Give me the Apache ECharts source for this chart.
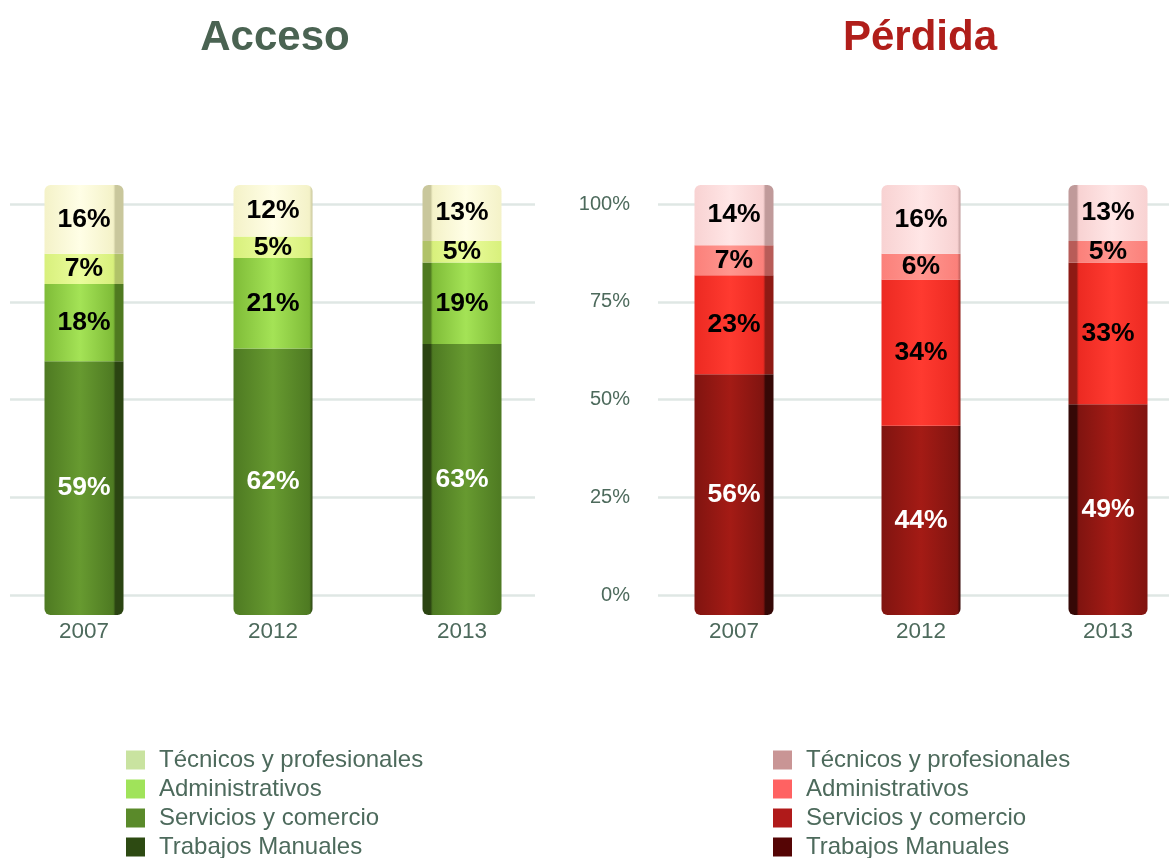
<!DOCTYPE html>
<html>
<head>
<meta charset="utf-8">
<script src="https://cdn.jsdelivr.net/npm/echarts@6/dist/echarts.min.js"></script>
<style>
html,body{margin:0;padding:0;background:#fff;}
#c{width:1169px;height:858px;}
</style>
</head>
<body>
<div id="c"></div>
<script>
// ---- data ----
const years = ['2007', '2012', '2013'];
const categoryNames = ['Técnicos y profesionales', 'Administrativos', 'Servicios y comercio', 'Trabajos Manuales'];
const yTickValues = [0, 25, 50, 75, 100];

const accesoTecnicos = [16, 12, 13];
const accesoAdministrativos = [7, 5, 5];
const accesoServicios = [18, 21, 19];
const accesoTrabajos = [59, 62, 63];

const perdidaTecnicos = [14, 16, 13];
const perdidaAdministrativos = [7, 6, 5];
const perdidaServicios = [23, 34, 33];
const perdidaTrabajos = [56, 44, 49];

// ---- styles ----
const barSides = ['right', 'none', 'left'];
const greenBar = {
  'Técnicos y profesionales': ['#f4f2c8', '#fffee6', '#c9c79c'],
  'Administrativos': ['#d8f07c', '#eafc9c', '#b0c268'],
  'Servicios y comercio': ['#7fbc38', '#a4e356', '#4f7a20'],
  'Trabajos Manuales': ['#4e7a22', '#679a30', '#2b4412']
};
const redBar = {
  'Técnicos y profesionales': ['#f8d2d2', '#ffe6e6', '#c09a9a'],
  'Administrativos': ['#fb807a', '#ff968f', '#b85c58'],
  'Servicios y comercio': ['#ec2a22', '#ff3a30', '#8e1a14'],
  'Trabajos Manuales': ['#801410', '#a41b15', '#350806']
};
const greenLegend = ['#c9e3a0', '#a0e35a', '#5a8a2a', '#2d4a12'];
const redLegend = ['#c99595', '#ff6262', '#b01a1a', '#550505'];

function grad(c, side) {
  const [base, light, dark] = c;
  let stops;
  if (side === 'right') {
    stops = [[0, base], [0.45, light], [0.87, base], [0.9, dark], [1, dark]];
  } else if (side === 'left') {
    stops = [[0, dark], [0.1, dark], [0.13, base], [0.55, light], [1, base]];
  } else {
    stops = [[0, base], [0.5, light], [0.96, base], [1, dark]];
  }
  return new echarts.graphic.LinearGradient(0, 0, 1, 0, stops.map(s => ({offset: s[0], color: s[1]})));
}

const FONT = '"Liberation Sans", Arial, Helvetica, sans-serif';
const textCol = '#4d6a5c';

function makeSeries(name, values, palette, xIdx, pos) {
  const radius = pos === 'top' ? [6, 6, 0, 0] : (pos === 'bottom' ? [0, 0, 6, 6] : 0);
  return {
    name: name,
    type: 'bar',
    stack: 's' + xIdx,
    xAxisIndex: xIdx,
    yAxisIndex: xIdx,
    barWidth: 79,
    data: values.map((v, i) => ({
      value: v,
      itemStyle: {color: grad(palette[name], barSides[i]), borderRadius: radius}
    })),
    label: {
      show: true,
      position: 'inside',
      formatter: p => p.value + '%',
      fontFamily: FONT,
      fontWeight: 'bold',
      fontSize: 26.5,
      color: name === 'Trabajos Manuales' ? '#ffffff' : '#000000'
    },
    emphasis: {disabled: true}
  };
}

const series = [
  makeSeries('Trabajos Manuales', accesoTrabajos, greenBar, 0, 'bottom'),
  makeSeries('Servicios y comercio', accesoServicios, greenBar, 0, 'mid'),
  makeSeries('Administrativos', accesoAdministrativos, greenBar, 0, 'mid'),
  makeSeries('Técnicos y profesionales', accesoTecnicos, greenBar, 0, 'top'),
  makeSeries('Trabajos Manuales', perdidaTrabajos, redBar, 1, 'bottom'),
  makeSeries('Servicios y comercio', perdidaServicios, redBar, 1, 'mid'),
  makeSeries('Administrativos', perdidaAdministrativos, redBar, 1, 'mid'),
  makeSeries('Técnicos y profesionales', perdidaTecnicos, redBar, 1, 'top')
];

function legend(left, colors) {
  return {
    left: left,
    top: 748,
    height: 130,
    width: 400,
    padding: 0,
    orient: 'vertical',
    icon: 'rect',
    itemWidth: 19,
    itemHeight: 19,
    itemGap: 5,
    selectedMode: false,
    data: categoryNames.map((n, i) => ({name: n, itemStyle: {color: colors[i]}})),
    textStyle: {fontFamily: FONT, fontSize: 24, color: textCol, padding: [0, 0, 0, 9]}
  };
}

const option = {
  backgroundColor: '#ffffff',
  animation: false,
  title: [
    {text: 'Acceso', left: 270, top: 12, textAlign: 'center',
     textStyle: {fontFamily: FONT, fontWeight: 'bold', fontSize: 42, color: '#4a6352'}},
    {text: 'Pérdida', left: 915, top: 12, textAlign: 'center',
     textStyle: {fontFamily: FONT, fontWeight: 'bold', fontSize: 42, color: '#b01e1a'}}
  ],
  legend: [legend(126, greenLegend), legend(773, redLegend)],
  grid: [
    {left: 84, width: 378, top: 185, height: 430},
    {left: 734, width: 374, top: 185, height: 430},
    {left: 10, width: 525, top: 204, height: 391},
    {left: 658, right: 0, top: 204, height: 391}
  ],
  xAxis: [
    {type: 'category', gridIndex: 0, data: years, boundaryGap: false, axisLine: {show: false}, axisTick: {show: false},
     splitLine: {show: false},
     axisLabel: {fontFamily: FONT, fontSize: 22.5, color: textCol, margin: 5}},
    {type: 'category', gridIndex: 1, data: years, boundaryGap: false, axisLine: {show: false}, axisTick: {show: false},
     splitLine: {show: false},
     axisLabel: {fontFamily: FONT, fontSize: 22.5, color: textCol, margin: 5}},
    {type: 'value', gridIndex: 2, show: false},
    {type: 'value', gridIndex: 3, show: false}
  ],
  yAxis: [
    {type: 'value', gridIndex: 0, min: 0, max: 100, show: false},
    {type: 'value', gridIndex: 1, min: 0, max: 100, show: false},
    {type: 'value', gridIndex: 2, min: yTickValues[0], max: yTickValues[yTickValues.length - 1], interval: 25,
     axisLine: {show: false}, axisTick: {show: false}, axisLabel: {show: false},
     splitLine: {lineStyle: {color: '#dfe7e4', width: 2.5}}},
    {type: 'value', gridIndex: 3, min: yTickValues[0], max: yTickValues[yTickValues.length - 1], interval: 25,
     axisLine: {show: false}, axisTick: {show: false},
     axisLabel: {formatter: '{value}%', fontFamily: FONT, fontSize: 20, color: textCol, margin: 28},
     splitLine: {lineStyle: {color: '#dfe7e4', width: 2.5}}}
  ],
  series: series
};

const chart = echarts.init(document.getElementById('c'), null, {renderer: 'canvas'});
chart.setOption(option);
</script>
</body>
</html>
